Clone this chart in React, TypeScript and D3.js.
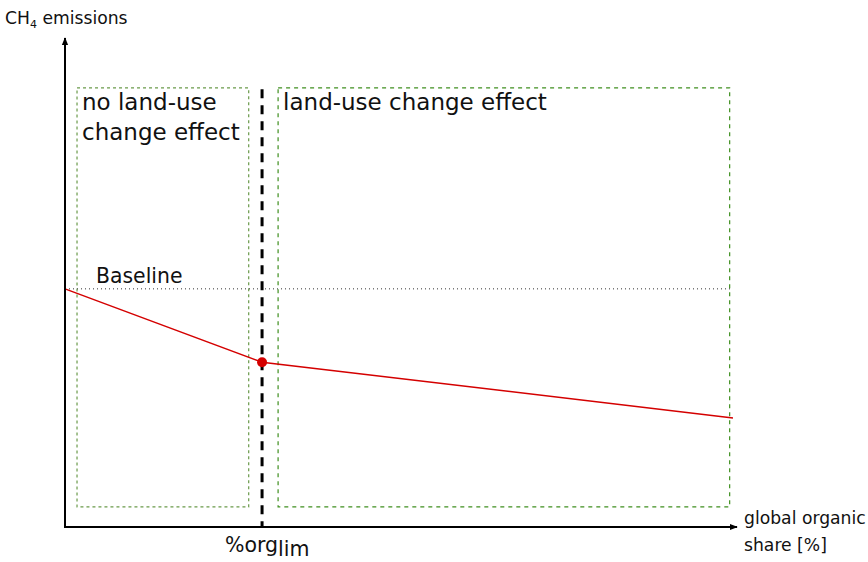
import React from "react";
import * as d3 from "d3";

const xShares = [0, 29.5, 100];
const emissions = [48.7, 33.7, 22.3];
const baselineValue = 48.7;
const orgLim = 29.5;
const boxes = [
  { x0: 1.8, x1: 27.5, lines: ["no land-use", "change effect"], color: "#6a9a4a", dash: "3,3" },
  { x0: 31.9, x1: 99.5, lines: ["land-use change effect"], color: "#3f8f1f", dash: "4,4" },
];

const W = 868, H = 562;
const font = "DejaVu Sans, sans-serif";

export default function App() {
  const x = d3.scaleLinear().domain([0, 100]).range([65, 733]);
  const y = d3.scaleLinear().domain([0, 100]).range([527, 38]);
  const line = d3.line<number>().x((_, i) => x(xShares[i])).y((d) => y(d));
  const boxTop = y(89.8);
  const boxBot = y(4.1);
  return (
    <svg width={W} height={H} style={{ position: "absolute", left: 0, top: 0, background: "#fff" }} fontFamily={font}>
      <defs>
        <marker id="arr" viewBox="0 0 10 10" refX="9" refY="5" markerWidth="8" markerHeight="8" orient="auto" markerUnits="userSpaceOnUse">
          <path d="M0,1 L10,5 L0,9 Z" fill="#000" />
        </marker>
      </defs>
      {boxes.map((b, i) => (
        <g key={i}>
          <rect x={x(b.x0)} y={boxTop} width={x(b.x1) - x(b.x0)} height={boxBot - boxTop} fill="none" stroke={b.color} strokeWidth={1.2} strokeDasharray={b.dash} />
          {b.lines.map((t, j) => (
            <text key={j} x={x(b.x0) + 5} y={boxTop + 22 + j * 30} fontSize={23} fill="#111">{t}</text>
          ))}
        </g>
      ))}
      <line x1={x(0)} x2={x(100)} y1={y(baselineValue)} y2={y(baselineValue)} stroke="#333" strokeWidth={1} strokeDasharray="1,3" />
      <text x={96} y={y(baselineValue) - 6} fontSize={20.4} fill="#111">Baseline</text>
      <line x1={x(orgLim)} x2={x(orgLim)} y1={y(89.5)} y2={y(0)} stroke="#000" strokeWidth={3} strokeDasharray="9,7" />
      <path d={line(emissions) ?? ""} fill="none" stroke="#d40000" strokeWidth={1.5} />
      <circle cx={x(xShares[1])} cy={y(emissions[1])} r={5} fill="#d40000" />
      <line x1={x(0)} x2={x(0)} y1={y(0) + 1} y2={38} stroke="#000" strokeWidth={2} markerEnd="url(#arr)" />
      <line x1={x(0) - 1} x2={737} y1={y(0)} y2={y(0)} stroke="#000" strokeWidth={2} markerEnd="url(#arr)" />
      <text x={5} y={24} fontSize={17.2} fill="#111">CH<tspan fontSize={11} dy={4}>4</tspan><tspan dy={-4}> emissions</tspan></text>
      <text x={225} y={552} fontSize={20.5} fill="#111">%org<tspan dy={4}>lim</tspan></text>
      <text x={744} y={524} fontSize={17.2} fill="#111">global organic</text>
      <text x={744} y={551} fontSize={17.2} fill="#111">share [%]</text>
    </svg>
  );
}
